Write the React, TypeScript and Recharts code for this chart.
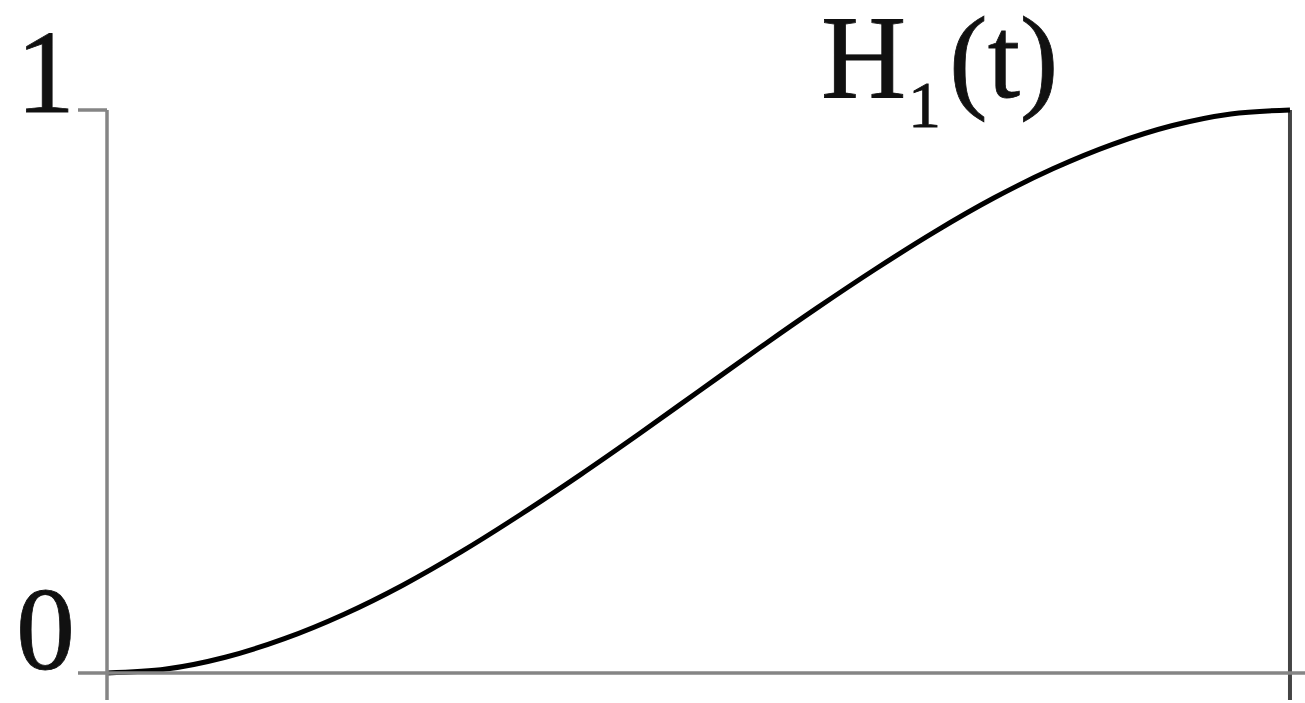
import React from 'react';
import { LineChart, Line, XAxis, YAxis, ReferenceLine, Customized } from 'recharts';

// Sampled parameter values t and the blending curve H1(t)
const tValues = [0, 0.05, 0.1, 0.15, 0.2, 0.25, 0.3, 0.35, 0.4, 0.45, 0.5, 0.55, 0.6, 0.65, 0.7, 0.75, 0.8, 0.85, 0.9, 0.95, 1];
const h1Values = [0, 0.007, 0.028, 0.061, 0.104, 0.156, 0.216, 0.282, 0.352, 0.425, 0.5, 0.575, 0.648, 0.718, 0.784, 0.844, 0.896, 0.939, 0.972, 0.993, 1];
const yTicks = [0, 1];
const xTicks = [0];

const data = tValues.map((t, i) => ({ t, h: h1Values[i] }));

const SERIF = '"Liberation Serif", "Times New Roman", serif';
const AXIS_GRAY = '#858585';

const YTick = (props: any) => {
  const { y, payload } = props;
  const v = payload.value;
  const baseline = v === 1 ? y + 2 : y - 4;
  return (
    <text x={75} y={baseline} textAnchor="end" fontFamily={SERIF} fontSize={118} fill="#111" stroke="#111" strokeWidth={0.8}>
      {String(v)}
    </text>
  );
};

const Title = () => (
  <text fontFamily={SERIF} fill="#111" stroke="#111" strokeWidth={0.8}>
    <tspan x={821} y={97} fontSize={118}>H</tspan>
    <tspan x={908} y={127} fontSize={66}>1</tspan>
    <tspan x={949} y={97} fontSize={116}>(t)</tspan>
  </text>
);

export default function App() {
  return (
    <div style={{ position: 'absolute', left: 0, top: 0, background: '#fff' }}>
      <LineChart width={1305} height={703} data={data} margin={{ top: 110, right: 0, bottom: 0, left: 0 }}>
        <XAxis
          dataKey="t"
          type="number"
          domain={[0, 1.0127]}
          ticks={xTicks}
          height={30}
          tickSize={27}
          tickFormatter={() => ''}
          axisLine={{ stroke: AXIS_GRAY, strokeWidth: 3.5 }}
          tickLine={{ stroke: AXIS_GRAY, strokeWidth: 3.5 }}
        />
        <YAxis
          type="number"
          domain={[0, 1]}
          ticks={yTicks}
          width={107}
          tickSize={29}
          tick={<YTick />}
          axisLine={{ stroke: AXIS_GRAY, strokeWidth: 3.5 }}
          tickLine={{ stroke: AXIS_GRAY, strokeWidth: 3.5 }}
        />
        <ReferenceLine
          segment={[{ x: 1, y: 1 }, { x: 1, y: -0.048 }]}
          ifOverflow="visible"
          stroke="#444"
          strokeWidth={4}
        />
        <Line
          type="monotone"
          dataKey="h"
          stroke="#000"
          strokeWidth={5}
          dot={false}
          isAnimationActive={false}
        />
        <Customized component={Title} />
      </LineChart>
    </div>
  );
}
